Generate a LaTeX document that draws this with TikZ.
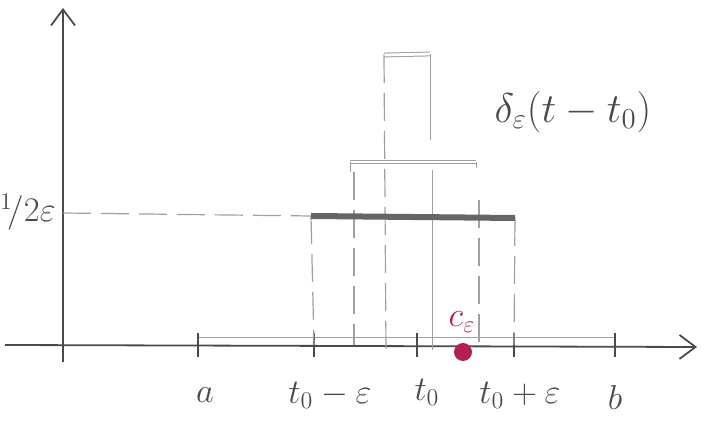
\documentclass[tikz,border=0pt]{standalone}
\usepackage{amsmath}
\usetikzlibrary{arrows.meta,positioning}
\definecolor{Pencil}{HTML}{4A4A4A}
\definecolor{LightPencil}{HTML}{A0A0A0}
\definecolor{InkRed}{HTML}{B3204F}
\tikzset{%
  axisline/.style={-{Straight Barb[length=8pt,width=12pt]},line width=0.9pt,Pencil},
  tickmark/.style={line width=1.4pt,Pencil},
  lbl/.style={font=\LARGE,Pencil,inner sep=1pt},
  guide/.style={LightPencil,line width=0.6pt,dash pattern=on 14pt off 5pt},
  thinguide/.style={LightPencil,line width=0.5pt},
  widebar/.style={line width=3pt,Pencil!85},
  thinbar/.style={LightPencil,double,double distance=1.4pt,line width=0.5pt}
}
\begin{document}
\begin{tikzpicture}[x=0.5pt,y=-0.5pt]
  \useasboundingbox (0,0) rectangle (701,421);
  % axes
  \coordinate (ybot) at (63,362);
  \coordinate (ytop) at (63,8);
  \coordinate (xleft) at (5,345);
  \coordinate (xright) at (697,347);
  \draw[axisline] (ybot) -- (ytop);
  \draw[axisline] (xleft) -- (xright);
  % points on the time axis
  \coordinate (ta) at (198,345);
  \coordinate (tl) at (314,345);
  \coordinate (tz) at (417,345);
  \coordinate (tr) at (514,345);
  \coordinate (tb) at (615,345);
  \draw[thinguide] (ta) ++(0,-7) -- (615,338);
  \foreach \p in {ta,tl,tz,tr,tb}
    \draw[tickmark] (\p) ++(0,-12) -- ++(0,24);
  \node[lbl] (la) at (205,395) {$a$};
  \node[lbl] (ll) at (330,395) {$t_0-\varepsilon$};
  \node[lbl] (lz) at (427,392) {$t_0$};
  \node[lbl] (lr) at (520,395) {$t_0+\varepsilon$};
  \node[lbl] (lb) at (615,398) {$b$};
  % widest pulse, height 1/(2 eps)
  \coordinate (hy) at (63,213);
  \coordinate (wl) at (311,216);
  \coordinate (wr) at (515,218);
  \draw[guide] (hy) -- (wl);
  \node[lbl,anchor=east] (lh) at (58,212) {${}^{1}\!/2\varepsilon$};
  \draw[guide] (wl) -- (tl);
  \draw[guide] (wr) -- (tr);
  % narrower pulses
  \coordinate (ml) at (350,162);
  \coordinate (mr) at (476,162);
  \coordinate (nl) at (384,55);
  \coordinate (nr) at (430,54);
  \draw[thinbar] (ml) -- (mr);
  \draw[thinguide] (ml) -- ++(0,10);
  \draw[thinguide] (mr) -- ++(0,6);
  \draw[guide] (354,172) -- (354,345);
  \draw[guide] (479,200) -- (479,345);
  \draw[thinbar] (nl) -- (nr);
  \draw[guide] (nl) -- (386,352);
  \draw[thinguide] (nr) -- (430,140);
  \draw[thinguide] (432,170) -- (432,350);
  \draw[widebar] (wl) -- (wr);
  % label and intermediate point
  \node[lbl,font=\huge] (ldelta) at (573,112) {$\delta_\varepsilon(t-t_0)$};
  \node[circle,fill=InkRed,inner sep=0pt,minimum size=9pt] (ce) at (463,352) {};
  \node[lbl,InkRed] (lce) at (462,322) {$c_\varepsilon$};
\end{tikzpicture}
\end{document}
